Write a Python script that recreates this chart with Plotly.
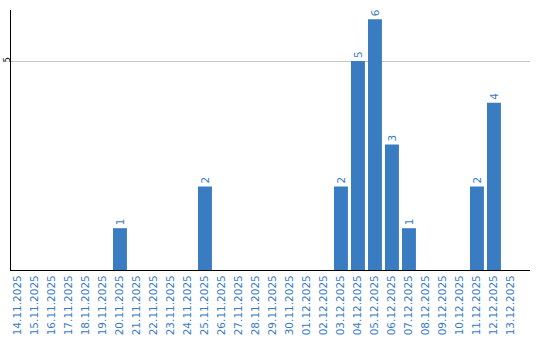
import plotly.graph_objects as go

dates = ["14.11.2025", "15.11.2025", "16.11.2025", "17.11.2025", "18.11.2025",
         "19.11.2025", "20.11.2025", "21.11.2025", "22.11.2025", "23.11.2025",
         "24.11.2025", "25.11.2025", "26.11.2025", "27.11.2025", "28.11.2025",
         "29.11.2025", "30.11.2025", "01.12.2025", "02.12.2025", "03.12.2025",
         "04.12.2025", "05.12.2025", "06.12.2025", "07.12.2025", "08.12.2025",
         "09.12.2025", "10.12.2025", "11.12.2025", "12.12.2025", "13.12.2025"]
counts = [0, 0, 0, 0, 0, 0, 1, 0, 0, 0, 0, 2, 0, 0, 0, 0, 0, 0, 0, 2,
          5, 6, 3, 1, 0, 0, 0, 2, 4, 0]
y_ticks = [5]

bar_color = "#3a7cc2"
labels = [str(v) if v else "" for v in counts]

fig = go.Figure(go.Bar(
    x=dates, y=counts, text=labels, textposition="outside", textangle=-90,
    textfont=dict(family="DejaVu Sans", size=10.5, color=bar_color),
    marker=dict(color=bar_color, line=dict(width=0)), width=0.82,
    cliponaxis=False,
))

fig.update_layout(
    width=540, height=340, margin=dict(l=11, r=10, t=10, b=70),
    paper_bgcolor="white", plot_bgcolor="white", showlegend=False,
    font=dict(family="DejaVu Sans"),
    xaxis=dict(type="category", range=[-0.41, 30.12], tickangle=-90,
               tickfont=dict(size=10.5, color=bar_color, family="DejaVu Sans"),
               showline=True, linecolor="black", linewidth=1, ticks="",
               showgrid=False, automargin=False),
    yaxis=dict(range=[0, 6.22], tickvals=y_ticks, tickangle=-90,
               tickfont=dict(size=8, color="black"), ticklabelstandoff=-3,
               showline=True, linecolor="black", linewidth=1,
               showgrid=True, gridcolor="#c8c8c8", gridwidth=1,
               zeroline=False, ticks="", automargin=False),
)

fig.write_html("out.html")
